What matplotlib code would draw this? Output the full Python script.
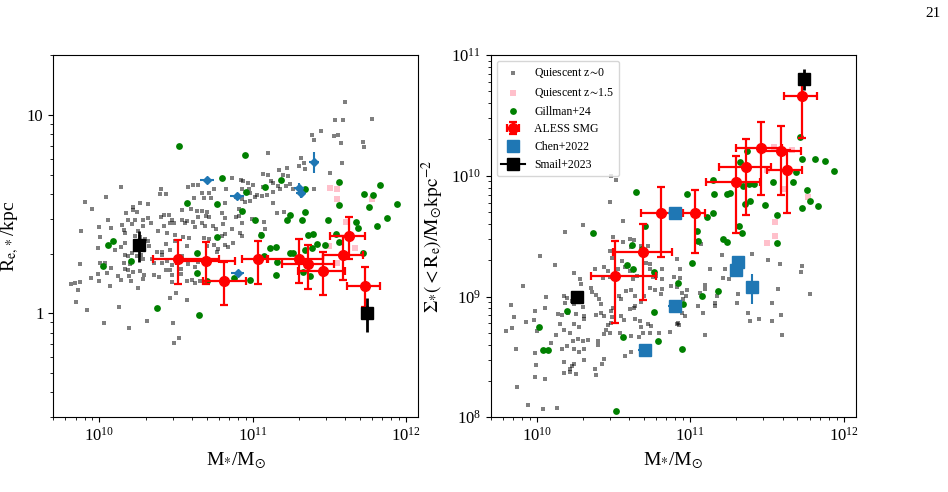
import numpy as np
import matplotlib
matplotlib.use('Agg')
import matplotlib.pyplot as plt
from matplotlib.ticker import NullFormatter

plt.rcParams['font.family'] = 'serif'
plt.rcParams['font.serif'] = ['Liberation Serif', 'DejaVu Serif']
plt.rcParams['mathtext.fontset'] = 'stix'

# ---------------- data ----------------
# quiescent z~0, left panel: log10(M*/Msun), log10(Re/kpc)
q0_logm_l = [10.141, 10.404, 10.393, 10.436, 10.580, 10.612, 10.641, 10.669, 10.717, 10.747,
             10.684, 10.727, 10.823, 10.867, 10.045, 10.263, 10.319, 10.217, 10.243, 10.176,
             10.221, 10.619, 10.819, 9.954, 9.904, 10.402, 10.421, 10.456, 10.471, 10.484,
             10.536, 10.541, 10.597, 10.638, 10.667, 10.704, 10.693, 10.714, 10.641, 10.571,
             10.608, 10.667, 10.797, 10.819, 10.319, 10.282, 10.232, 10.211, 10.187, 10.054,
             10.076, 10.145, 10.161, 10.337, 10.287, 10.421, 10.384, 10.458, 10.558, 10.623,
             10.691, 10.738, 10.758, 10.808, 10.819, 10.862, 9.880, 10.000, 10.002, 10.169,
             10.250, 10.234, 10.267, 10.297, 10.319, 10.326, 10.245, 10.169, 10.215, 10.184,
             10.141, 10.102, 9.991, 10.441, 10.491, 10.543, 10.584, 10.571, 10.495, 10.434,
             10.458, 10.410, 10.406, 10.376, 10.684, 10.701, 10.749, 10.717, 10.797, 10.819,
             10.836, 10.773, 10.769, 10.869, 10.167, 10.163, 10.200, 10.243, 10.271, 10.287,
             10.341, 10.358, 10.167, 10.187, 10.217, 10.265, 10.293, 10.287, 10.191, 10.206,
             10.143, 10.124, 10.074, 10.052, 10.006, 10.037, 9.991, 9.996, 9.943, 9.872,
             9.870, 9.843, 9.813, 9.859, 9.846, 9.919, 10.067, 10.250, 10.356, 10.391,
             10.408, 10.436, 10.460, 10.476, 10.441, 10.476, 10.471, 10.532, 10.532, 10.569,
             10.606, 10.623, 10.641, 10.580, 10.658, 10.623, 10.539, 10.499, 10.460, 10.569,
             10.032, 10.126, 10.193, 10.308, 10.482, 10.521, 10.486,
             11.601, 11.533, 11.590, 11.775, 11.388, 11.447, 11.397, 11.529, 11.555, 11.718,
             11.725, 11.573, 11.099, 11.314, 11.336, 11.301, 11.342, 11.169, 11.225, 11.069,
             11.101, 11.195, 11.229, 11.116, 11.134, 11.162, 11.177, 11.216, 11.242, 11.264,
             11.129, 11.090, 11.058, 11.025, 11.069, 11.000, 10.967, 10.938, 10.921, 10.932,
             10.973, 10.982, 11.401, 11.503, 11.583, 11.134, 11.203, 11.160, 11.075, 10.891,
             10.932, 10.910, 10.927, 10.912, 10.927, 10.891, 10.949, 10.982, 11.017, 10.917,
             10.932, 10.993, 11.053, 11.080]
q0_logre = [0.635, 0.628, 0.602, 0.602, 0.639, 0.645, 0.649, 0.605, 0.608, 0.628,
            0.580, 0.580, 0.625, 0.681, 0.588, 0.556, 0.551, 0.538, 0.512, 0.506,
            0.519, 0.580, 0.555, 0.528, 0.563, 0.487, 0.494, 0.494, 0.470, 0.457,
            0.470, 0.519, 0.524, 0.514, 0.514, 0.511, 0.491, 0.486, 0.487, 0.464,
            0.460, 0.454, 0.506, 0.479, 0.481, 0.472, 0.470, 0.449, 0.469, 0.472,
            0.428, 0.445, 0.420, 0.454, 0.440, 0.440, 0.415, 0.454, 0.454, 0.437,
            0.439, 0.440, 0.423, 0.450, 0.398, 0.423, 0.415, 0.435, 0.386, 0.403,
            0.415, 0.390, 0.386, 0.373, 0.365, 0.339, 0.356, 0.356, 0.306, 0.289,
            0.333, 0.321, 0.331, 0.407, 0.395, 0.386, 0.380, 0.339, 0.365, 0.349,
            0.321, 0.307, 0.292, 0.309, 0.381, 0.339, 0.343, 0.376, 0.390, 0.343,
            0.336, 0.326, 0.311, 0.356, 0.296, 0.255, 0.247, 0.289, 0.292, 0.276,
            0.272, 0.252, 0.222, 0.218, 0.210, 0.212, 0.193, 0.171, 0.188, 0.163,
            0.166, 0.188, 0.227, 0.203, 0.252, 0.255, 0.200, 0.161, 0.180, 0.250,
            0.158, 0.155, 0.150, 0.116, 0.059, 0.015, 0.136, 0.128, 0.193, 0.185,
            0.252, 0.219, 0.219, 0.242, 0.264, 0.193, 0.158, 0.222, 0.197, 0.161,
            0.170, 0.234, 0.259, 0.247, 0.163, 0.151, 0.289, 0.104, 0.076, 0.069,
            -0.050, 0.034, -0.072, -0.040, -0.049, -0.123, -0.148,
            1.065, 0.973, 0.974, 0.979, 0.899, 0.917, 0.875, 0.894, 0.900, 0.862,
            0.840, 0.858, 0.810, 0.784, 0.756, 0.742, 0.726, 0.722, 0.732, 0.700,
            0.695, 0.695, 0.692, 0.668, 0.658, 0.641, 0.625, 0.641, 0.650, 0.625,
            0.611, 0.594, 0.591, 0.594, 0.638, 0.645, 0.658, 0.665, 0.673, 0.628,
            0.628, 0.605, 0.626, 0.705, 0.756, 0.554, 0.511, 0.507, 0.460, 0.485,
            0.457, 0.490, 0.516, 0.527, 0.574, 0.588, 0.561, 0.566, 0.586, 0.403,
            0.389, 0.473, 0.398, 0.424]

# quiescent z~0, right panel: log10(M*/Msun), log10(Sigma/Msun kpc^-2)
q0_logm_r = [10.476, 10.562, 10.301, 10.186, 10.496, 10.564, 10.610, 10.474, 10.489, 10.557,
             10.616, 10.636, 10.677, 10.728, 10.022, 10.118, 10.240, 10.280, 10.288, 10.382,
             10.354, 10.441, 10.463, 10.430, 10.474, 10.529, 10.577, 10.605, 10.627, 10.656,
             10.715, 10.736, 10.736, 10.758, 10.778, 10.813, 10.813, 10.813, 10.809, 10.739,
             10.769, 10.914, 10.931, 10.892, 10.874, 10.916, 10.935, 10.944, 10.977, 10.973,
             10.966, 10.944, 10.911, 10.927, 10.951, 9.910, 10.059, 10.054, 9.834, 9.849,
             9.932, 9.987, 9.980, 10.000, 9.801, 9.838, 9.862, 9.987, 9.995, 10.050,
             9.989, 9.873, 9.945, 10.037, 10.133, 10.179, 10.197, 10.183, 10.227, 10.242,
             10.304, 10.306, 10.310, 10.258, 10.277, 10.216, 10.238, 10.267, 10.299, 10.334,
             10.240, 10.203, 10.135, 10.164, 10.151, 10.175, 10.127, 10.194, 10.245, 10.277,
             10.310, 10.385, 10.404, 10.420, 10.358, 10.387, 10.420, 10.441, 10.496, 10.485,
             10.533, 10.551, 10.583, 10.612, 10.638, 10.634, 10.677, 10.697, 10.642, 10.605,
             10.568, 10.638, 10.675, 10.726, 10.747, 10.682, 10.551, 10.489, 10.463, 10.448,
             10.441, 10.485, 10.474, 10.540, 10.616, 10.664, 10.693, 10.736, 10.798, 10.868,
             10.918, 10.398, 10.402, 10.441, 10.424, 10.380, 10.387, 10.306, 10.245, 10.232,
             10.214, 10.214, 10.258, 10.175, 10.166, 10.179, 10.094, 10.577, 10.612,
             10.485, 10.518,
             11.071, 11.130, 11.217, 11.224, 11.174, 11.163, 11.097, 11.095, 11.064, 11.163,
             11.086, 11.097, 11.049, 11.311, 11.305, 11.377, 11.388, 11.447, 11.508, 11.534,
             11.534, 11.574, 11.585, 11.593, 11.600, 11.720, 11.727, 11.779, 11.403, 11.210,
             11.250]
q0_logsig = [9.781, 9.629, 9.591, 9.538, 9.494, 9.453, 9.480, 9.373, 9.320, 9.296,
             9.411, 9.472, 9.417, 9.417, 9.334, 9.260, 9.196, 9.147, 9.105, 9.224,
             9.067, 9.246, 9.210, 9.155, 9.160, 9.224, 9.246, 9.213, 9.141, 9.169,
             9.279, 9.273, 9.224, 9.163, 9.174, 9.224, 9.141, 9.064, 9.017, 9.069,
             9.053, 9.312, 9.224, 9.163, 9.086, 9.080, 9.155, 9.031, 9.058, 9.003,
             8.838, 8.865, 8.774, 8.760, 8.976, 9.086, 8.998, 8.907, 8.931, 8.829,
             8.791, 8.879, 8.804, 8.713, 8.713, 8.736, 8.567, 8.534, 8.432, 8.313,
             8.335, 8.253, 8.101, 8.071, 8.073, 9.003, 8.989, 8.948, 8.959, 8.934,
             8.915, 8.838, 8.810, 8.851, 8.749, 8.700, 8.631, 8.644, 8.631, 8.639,
             8.774, 8.865, 8.851, 8.846, 8.769, 8.722, 8.680, 8.589, 8.562, 8.542,
             8.562, 9.011, 8.981, 8.934, 9.036, 8.846, 8.865, 8.838, 8.907, 8.884,
             9.003, 8.976, 9.045, 9.058, 9.003, 8.904, 8.956, 9.003, 8.920, 8.893,
             8.804, 8.810, 8.793, 8.769, 8.752, 8.747, 8.838, 8.832, 8.763, 8.719,
             8.686, 8.782, 8.700, 8.700, 8.672, 8.661, 8.700, 8.694, 8.700, 8.708,
             8.782, 8.631, 8.600, 8.484, 8.438, 8.396, 8.349, 8.471, 8.438, 8.424,
             8.402, 8.374, 8.355, 8.363, 8.562, 8.460, 8.614, 8.506, 8.542,
             9.996, 9.969,
             9.439, 9.229, 9.152, 9.224, 9.003, 8.948, 9.099, 9.063, 9.030, 8.920,
             8.865, 8.685, 8.920, 9.017, 8.948, 8.865, 8.796, 8.815, 9.301, 8.796,
             8.948, 9.063, 9.273, 8.845, 8.677, 9.204, 9.251, 9.022, 9.353, 9.342,
             9.149]

# quiescent z~1.5
q15_m_l = [3.18e11, 3.55e11, 3.55e11, 5.96e11, 4.03e11, 3.15e11, 4.63e11, 3.52e11]
q15_re = [4.27, 4.22, 3.76, 3.79, 2.90, 2.18, 2.14, 1.80]
q15_m_r = [3.51e11, 4.63e11, 3.18e11, 4.05e11, 5.89e11, 3.56e11, 3.56e11, 3.18e11]
q15_sig = [1.73e10, 1.63e10, 1.12e10, 7.83e9, 6.68e9, 4.12e9, 3.20e9, 2.79e9]

# Gillman+24
gil_logm_l = [10.521, 10.951, 10.799, 11.182, 11.080, 10.954, 11.340, 11.562, 11.831, 11.726,
              11.785, 10.569, 10.769, 10.930, 11.562, 11.759, 11.938, 11.340, 11.242, 11.221,
              11.319, 11.014, 11.490, 11.670, 11.876, 11.809, 11.687, 11.052, 10.769, 11.542,
              11.358, 11.392, 11.562, 11.418, 11.470, 11.388, 11.340, 11.110, 11.153, 11.242,
              11.264, 11.071, 11.160, 11.720, 10.055, 10.087, 10.026, 10.207, 10.635, 10.635,
              10.700, 10.880, 10.982, 11.151, 11.329, 11.373, 10.374, 10.651]
gil_logre = [0.841, 0.797, 0.684, 0.672, 0.637, 0.612, 0.629, 0.662, 0.646, 0.600,
             0.597, 0.558, 0.551, 0.514, 0.545, 0.538, 0.551, 0.511, 0.496, 0.471,
             0.471, 0.469, 0.469, 0.462, 0.481, 0.440, 0.430, 0.397, 0.385, 0.400,
             0.393, 0.402, 0.362, 0.349, 0.344, 0.328, 0.319, 0.329, 0.333, 0.306,
             0.306, 0.289, 0.259, 0.303, 0.346, 0.365, 0.239, 0.264, 0.306, 0.205,
             0.163, 0.177, 0.168, 0.193, 0.210, 0.188, 0.027, -0.007]
gil_logm_r = [11.715, 11.727, 11.814, 11.879, 11.938, 11.692, 11.672, 11.764, 11.781, 11.833,
              11.727, 11.563, 11.490, 11.541, 11.563, 11.370, 11.328, 11.416, 11.386, 11.344,
              11.147, 11.156, 11.243, 11.261, 11.355, 11.387, 11.149, 11.108, 10.979, 10.649,
              11.043, 11.049, 11.217, 11.239, 11.318, 11.338, 10.927, 10.704, 10.367, 10.623,
              10.684, 11.010, 10.590, 10.629, 10.763, 10.922, 11.184, 11.077, 10.953, 10.765,
              10.199, 10.015, 10.043, 10.074, 10.564, 10.793, 10.948, 10.513]
gil_logsig = [10.319, 10.142, 10.140, 10.120, 10.043, 10.032, 9.950, 9.886, 9.795, 9.748,
              9.734, 9.679, 9.756, 9.950, 9.445, 10.203, 10.112, 9.935, 9.933, 9.913,
              9.969, 9.847, 9.853, 9.858, 9.770, 9.789, 9.693, 9.660, 9.850, 9.867,
              9.541, 9.458, 9.480, 9.455, 9.582, 9.527, 9.704, 9.582, 9.524, 9.428,
              9.397, 9.281, 9.262, 9.229, 9.207, 9.108, 9.047, 9.008, 8.936, 8.873,
              8.878, 8.749, 8.561, 8.559, 8.661, 8.633, 8.567, 8.048]

# ALESS SMGs: stellar mass with lower / upper ends of the error bar
aless_m = [3.24e10, 4.93e10, 6.49e10, 1.08e11, 2.00e11, 2.30e11, 2.88e11, 3.89e11, 4.26e11, 5.38e11]
aless_m_lo = [2.25e10, 3.16e10, 4.76e10, 8.55e10, 1.26e11, 1.55e11, 1.98e11, 2.88e11, 3.19e11, 4.09e11]
aless_m_hi = [6.03e10, 7.66e10, 9.00e10, 1.24e11, 2.85e11, 3.38e11, 3.99e11, 5.25e11, 5.38e11, 6.75e11]
aless_re = [1.89, 1.84, 1.45, 1.87, 1.89, 1.77, 1.64, 1.97, 2.45, 1.37]
aless_re_lo = [1.41, 1.40, 1.10, 1.40, 1.42, 1.33, 1.24, 1.48, 1.87, 1.08]
aless_re_hi = [2.33, 2.29, 1.81, 2.31, 2.38, 2.21, 2.05, 2.45, 3.06, 1.71]
aless_sig = [1.47e9, 2.33e9, 4.90e9, 4.93e9, 8.91e9, 1.18e10, 1.71e10, 1.60e10, 1.12e10, 4.61e10]
aless_sig_lo = [6.05e8, 9.44e8, 2.13e9, 2.30e9, 3.33e9, 4.78e9, 6.90e9, 6.90e9, 4.93e9, 2.06e10]
aless_sig_hi = [2.91e9, 4.02e9, 8.04e9, 7.58e9, 1.45e10, 2.00e10, 2.79e10, 2.57e10, 1.65e10, 6.25e10]

# Chen+2022
chen_m = [5.06e10, 7.92e10, 2.00e11, 2.05e11, 2.52e11, 7.98e10]
chen_m_err = [0.5e10, 0.8e10, 1.5e10, 1.5e10, 2.0e10, 0.8e10]
chen_re = [4.70, 3.91, 4.30, 4.05, 5.79, 1.60]
chen_re_err = [0.15, 0.15, 0.25, 0.25, 0.70, 0.06]
chen_sig = [3.6e8, 8.3e8, 1.65e9, 1.92e9, 1.20e9, 4.93e9]
chen_sig_err = [0.3e8, 0.7e8, 0.15e9, 0.15e9, 0.33e9, 0.4e9]

# Smail+2023
smail_m = [1.82e10, 5.52e11]
smail_re = [2.20, 1.00]
smail_re_lo = [1.81, 0.805]
smail_re_hi = [2.60, 1.20]
smail_sig = [1.0e9, 6.34e10]
smail_sig_lo = [0.95e9, 5.17e10]
smail_sig_hi = [1.05e9, 7.68e10]


def asym(val, lo, hi):
    val, lo, hi = np.array(val), np.array(lo), np.array(hi)
    return [val - lo, hi - val]


fig = plt.figure(figsize=(9.48, 4.92), dpi=100)
ax1 = fig.add_axes([0.0562, 0.152, 0.385, 0.736])
ax2 = fig.add_axes([0.5176, 0.152, 0.385, 0.736])

#---- left panel: size-mass
ax1.scatter(10**np.array(q0_logm_l), 10**np.array(q0_logre), s=5, marker='s', color='k',
            alpha=0.5, linewidths=0, zorder=1)
ax1.scatter(q15_m_l, q15_re, s=22, marker='s', color='pink', linewidths=0, zorder=2)
ax1.scatter(10**np.array(gil_logm_l), 10**np.array(gil_logre), s=24, color='green',
            linewidths=0, zorder=3)
ax1.errorbar(aless_m, aless_re, xerr=asym(aless_m, aless_m_lo, aless_m_hi),
             yerr=asym(aless_re, aless_re_lo, aless_re_hi), fmt='o', color='red', ms=7,
             elinewidth=1.6, capsize=3, capthick=1.6, zorder=4)
ax1.errorbar(chen_m, chen_re, xerr=chen_m_err, yerr=chen_re_err, fmt='D', color='tab:blue',
             ms=4.5, elinewidth=1.5, zorder=5)
for i in range(len(smail_m)):
    ax1.errorbar(smail_m[i], smail_re[i],
                 yerr=[[smail_re[i] - smail_re_lo[i]], [smail_re_hi[i] - smail_re[i]]],
                 marker='s', color='k', ms=8, elinewidth=2, zorder=6)

ax1.set_xscale('log')
ax1.set_yscale('log')
ax1.set_xlim(5e9, 1.2e12)
ax1.set_ylim(0.3, 20)
ax1.set_yticks([1, 10])
ax1.set_yticklabels(['1', '10'])
ax1.yaxis.set_minor_formatter(NullFormatter())
ax1.xaxis.set_minor_formatter(NullFormatter())
ax1.set_xlabel(r'M$_{*}$/M$_{\odot}$', fontsize=14)
ax1.set_ylabel(r'R$_{\rm e,*}$/kpc', fontsize=14)
ax1.tick_params(labelsize=12)

#---- right panel: surface density
ax2.scatter(10**np.array(q0_logm_r), 10**np.array(q0_logsig), s=5, marker='s', color='k',
            alpha=0.5, linewidths=0, zorder=1, label=r'Quiescent z$\!\sim\!$0')
ax2.scatter(q15_m_r, q15_sig, s=22, marker='s', color='pink', linewidths=0, zorder=2,
            label=r'Quiescent z$\!\sim\!$1.5')
ax2.scatter(10**np.array(gil_logm_r), 10**np.array(gil_logsig), s=24, color='green',
            linewidths=0, zorder=3, label='Gillman+24')
ax2.errorbar(aless_m, aless_sig, xerr=asym(aless_m, aless_m_lo, aless_m_hi),
             yerr=asym(aless_sig, aless_sig_lo, aless_sig_hi), fmt='o', color='red', ms=7,
             elinewidth=1.6, capsize=3, capthick=1.6, zorder=4, label='ALESS SMG')
ax2.errorbar(chen_m, chen_sig, xerr=chen_m_err, yerr=chen_sig_err, fmt='s', color='tab:blue',
             ms=9, elinewidth=1.5, zorder=5, label='Chen+2022')
for i in range(len(smail_m)):
    ax2.errorbar(smail_m[i], smail_sig[i],
                 yerr=[[smail_sig[i] - smail_sig_lo[i]], [smail_sig_hi[i] - smail_sig[i]]],
                 marker='s', color='k', ms=8, elinewidth=2, zorder=6,
                 label='Smail+2023' if i == 0 else None)

ax2.set_xscale('log')
ax2.set_yscale('log')
ax2.set_xlim(5e9, 1.2e12)
ax2.set_ylim(1e8, 1e11)
ax2.xaxis.set_minor_formatter(NullFormatter())
ax2.yaxis.set_minor_formatter(NullFormatter())
ax2.set_xlabel(r'M$_{*}$/M$_{\odot}$', fontsize=14)
ax2.set_ylabel(r'$\Sigma_{*}(<\mathrm{R_e})/\mathrm{M_{\odot}kpc^{-2}}$', fontsize=14)
ax2.tick_params(labelsize=12)
ax2.legend(loc='upper left', fontsize=8.5)

fig.text(0.992, 0.985, '21', ha='right', va='top', fontsize=11)

fig.savefig('out.png', dpi=100)
